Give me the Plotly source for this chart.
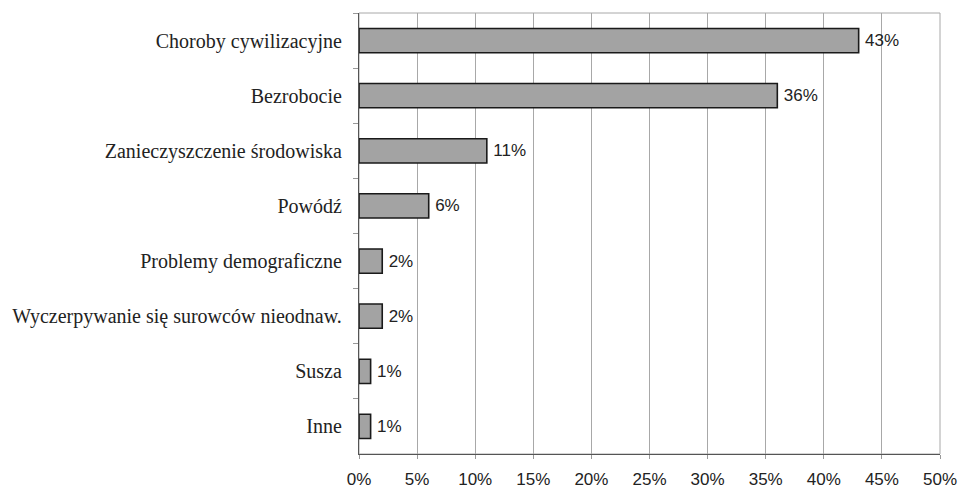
import plotly.graph_objects as go

categories = [
    'Choroby cywilizacyjne',
    'Bezrobocie',
    'Zanieczyszczenie środowiska',
    'Powódź',
    'Problemy demograficzne',
    'Wyczerpywanie się surowców nieodnaw.',
    'Susza',
    'Inne',
]
values = [43, 36, 11, 6, 2, 2, 1, 1]
x_ticks = [0, 5, 10, 15, 20, 25, 30, 35, 40, 45, 50]

fig = go.Figure()
fig.add_trace(go.Bar(
    y=categories, x=values, orientation='h',
    width=0.44,
    marker=dict(color='#a3a3a3', line=dict(color='#1a1a1a', width=1.6)),
    text=[f'\u2009{v}%' for v in values], textposition='outside',
    textfont=dict(family='Liberation Sans, Arial', size=17, color='#222'),
    cliponaxis=False, showlegend=False))

fig.update_xaxes(
    range=[0, 50], tickvals=x_ticks, ticktext=[f'{t}%' for t in x_ticks],
    showgrid=True, gridcolor='#a8a8a8', gridwidth=1,
    showline=True, linecolor='#555', linewidth=1.3,
    ticks='outside', ticklen=4, tickcolor='#999',
    tickfont=dict(family='Liberation Sans, Arial', size=17, color='#222'),
    ticklabelstandoff=5, zeroline=False)
fig.update_yaxes(
    autorange='reversed', showgrid=False,
    showline=True, linecolor='#555', linewidth=1.3,
    ticks='outside', ticklen=5, tickcolor='#999', tickson='boundaries',
    tickfont=dict(family='Liberation Serif, Times New Roman', size=20, color='#222'),
    ticklabelstandoff=12)

# gray frame round the plot area
fig.add_shape(type='rect', xref='paper', yref='paper', x0=0, x1=1, y0=0, y1=1,
              line=dict(color='#a8a8a8', width=1), layer='below')

fig.update_layout(
    width=969, height=501,
    margin=dict(l=355, r=18, t=13, b=34),
    plot_bgcolor='white', paper_bgcolor='white')

# drop the default 8px page margin so the figure fills the window
fig.write_html('out.html', config={'displayModeBar': False},
               post_script="document.body.style.margin='0';")
